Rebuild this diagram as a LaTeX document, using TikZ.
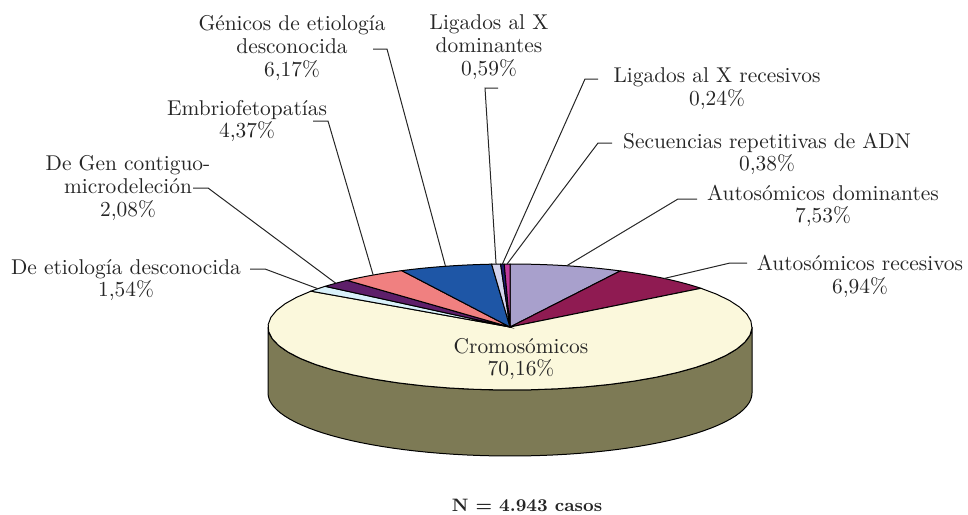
\documentclass[tikz,border=0pt]{standalone}
\usepackage{fontspec}
\definecolor{adcol}{RGB}{168,160,204}
\definecolor{arcol}{RGB}{143,27,82}
\definecolor{crocol}{RGB}{251,248,220}
\definecolor{sidecol}{RGB}{125,122,85}
\definecolor{deticol}{RGB}{217,241,250}
\definecolor{dgccol}{RGB}{94,31,106}
\definecolor{embcol}{RGB}{240,128,128}
\definecolor{gencol}{RGB}{30,86,166}
\definecolor{lxdcol}{RGB}{212,212,238}
\definecolor{lxrcol}{RGB}{28,28,110}
\definecolor{seccol}{RGB}{192,57,154}
% one sector of the top face: start angle, end angle, colour
\newcommand{\pieslice}[3]{%
  \filldraw[#3,draw=black,line width=0.5pt] (pc) -- plot[domain=#1:#2,samples=40] ({510+242*sin(\x)},{327-63*cos(\x)}) -- cycle;}
\begin{document}
\begin{tikzpicture}[
                        x=0.5pt, y=-0.5pt,
                        >=latex,
                        every node/.style={font=\fontsize{10.7}{11.4}\selectfont, text=black!85, align=center, inner sep=0pt},
                        leader/.style={draw=black!85, line width=0.5pt}
                    ]
                    \useasboundingbox (0,0) rectangle (968,514);
                    % Pie
                    \coordinate (pc) at (510,327);
                    \filldraw[sidecol,draw=black,line width=0.5pt] plot[domain=90:270,samples=60] ({510+242*sin(\x)},{327-63*cos(\x)}) -- plot[domain=270:90,samples=60] ({510+242*sin(\x)},{393-63*cos(\x)}) -- cycle;
                    \pieslice{0}{27.108}{adcol}
                    \pieslice{27.108}{52.092}{arcol}
                    \pieslice{52.092}{304.668}{crocol}
                    \pieslice{304.668}{310.212}{deticol}
                    \pieslice{310.212}{317.7}{dgccol}
                    \pieslice{317.7}{333.432}{embcol}
                    \pieslice{333.432}{355.644}{gencol}
                    \pieslice{355.644}{357.768}{lxdcol}
                    \pieslice{357.768}{358.632}{lxrcol}
                    \pieslice{358.632}{360}{seccol}
                    % Labels
                    \node (cro)  at (521,359) {Cromosómicos\\70,16\%};
                    \node (ad)   at (823,206) {Autosómicos dominantes\\7,53\%};
                    \node (ar)   at (860,276) {Autosómicos recesivos\\6,94\%};
                    \node (sec)  at (767,154) {Secuencias repetitivas de ADN\\0,38\%};
                    \node (lxr)  at (717,89)  {Ligados al X recesivos\\0,24\%};
                    \node (lxd)  at (489,47)  {Ligados al X\\dominantes\\0,59\%};
                    \node (gen)  at (292,48)  {Génicos de etiología\\desconocida\\6,17\%};
                    \node (emb)  at (247,121) {Embriofetopatías\\4,37\%};
                    \node (dgc)  at (128,188) {De Gen contiguo-\\microdeleción\\2,08\%};
                    \node (deti) at (126,280) {De etiología desconocida\\1,54\%};
                    \node[font=\fontsize{9}{10}\selectfont\bfseries] (total) at (527,505) {N = 4.943 casos};
                    % Leader ends on the pie
                    \coordinate (ad-p)   at ({510+242*sin(13.55)},{327-63*cos(13.55)});
                    \coordinate (ar-p)   at ({510+242*sin(39.6)},{327-63*cos(39.6)});
                    \coordinate (deti-p) at ({510+242*sin(307.44)},{327-63*cos(307.44)});
                    \coordinate (dgc-p)  at ({510+242*sin(313.96)},{327-63*cos(313.96)});
                    \coordinate (emb-p)  at ({510+242*sin(325.57)},{327-63*cos(325.57)});
                    \coordinate (gen-p)  at ({510+242*sin(344.54)},{327-63*cos(344.54)});
                    \coordinate (lxd-p)  at ({510+242*sin(356.7)},{327-63*cos(356.7)});
                    \coordinate (lxr-p)  at ({510+242*sin(358.2)},{327-63*cos(358.2)});
                    \coordinate (sec-p)  at ({510+242*sin(359.3)},{327-63*cos(359.3)});
                    % Connections
                    \draw [leader] (373,49)  -- (387,49)  -- (gen-p);
                    \draw [leader] (313,121) -- (328,121) -- (emb-p);
                    \draw [leader] (193,188) -- (208,188) -- (dgc-p);
                    \draw [leader] (250,269) -- (265,269) -- (deti-p);
                    \draw [leader] (498,88)  -- (485,88)  -- (lxd-p);
                    \draw [leader] (598,79)  -- (585,79)  -- (lxr-p);
                    \draw [leader] (612,143) -- (598,143) -- (sec-p);
                    \draw [leader] (697,199) -- (678,199) -- (ad-p);
                    \draw [leader] (747,263) -- (730,263) -- (ar-p);
                \end{tikzpicture}
\end{document}
